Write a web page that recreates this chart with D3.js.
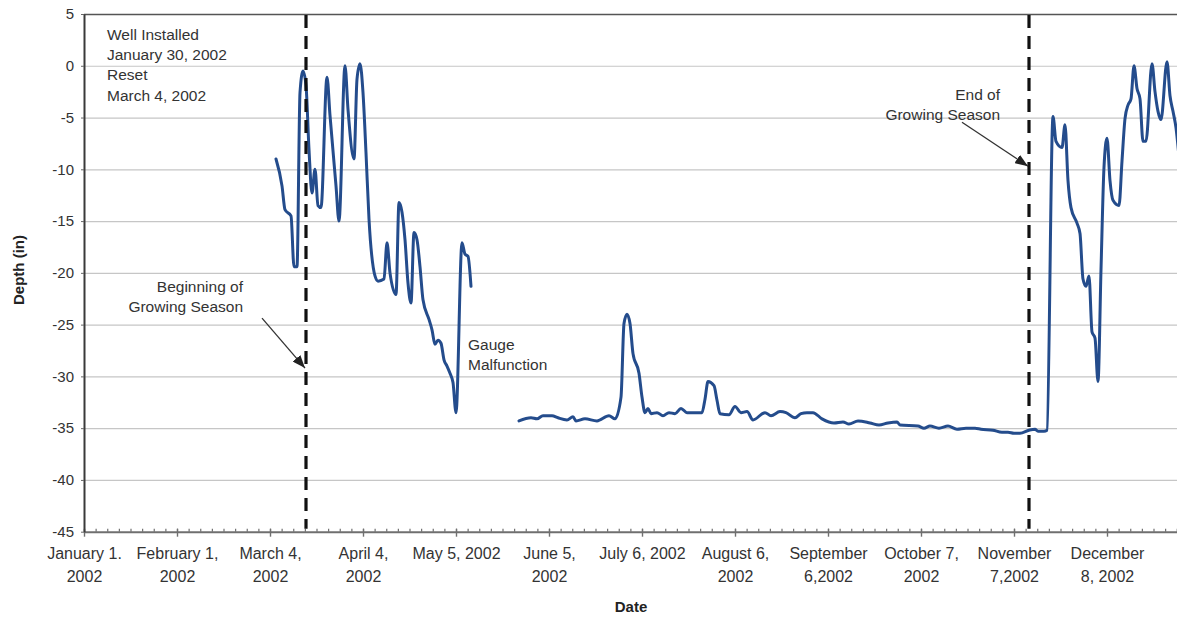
<!DOCTYPE html>
<html>
<head>
<meta charset="utf-8">
<script src="https://cdn.jsdelivr.net/npm/d3@7"></script>
<style>
  body { margin: 0; background: #fff; }
  svg { display: block; font-family: "Liberation Sans", Arial, sans-serif; }
</style>
</head>
<body>
<svg id="chart" width="1177" height="618"></svg>
<script>
// ---- Axis ticks (Excel-style 31-day major unit) ----
const tickDates = ["2002-01-01", "2002-02-01", "2002-03-04", "2002-04-04", "2002-05-05", "2002-06-05",
                   "2002-07-06", "2002-08-06", "2002-09-06", "2002-10-07", "2002-11-07", "2002-12-08"];
const tickLabels = [["January 1.", "2002"], ["February 1,", "2002"], ["March 4,", "2002"], ["April 4,", "2002"],
                    ["May 5, 2002"], ["June 5,", "2002"], ["July 6, 2002"], ["August 6,", "2002"],
                    ["September", "6,2002"], ["October 7,", "2002"], ["November", "7,2002"], ["December", "8, 2002"]];
const depthTicks = [5, 0, -5, -10, -15, -20, -25, -30, -35, -40, -45];

// ---- Well readings after reset (March 4) until the gauge malfunction ----
const springDates = ["2002-03-06", "2002-03-08", "2002-03-09", "2002-03-11", "2002-03-12", "2002-03-13", "2002-03-14",
  "2002-03-15", "2002-03-16", "2002-03-17", "2002-03-18", "2002-03-19", "2002-03-20", "2002-03-21", "2002-03-23",
  "2002-03-24", "2002-03-26", "2002-03-27", "2002-03-29", "2002-03-30", "2002-04-01", "2002-04-02", "2002-04-03",
  "2002-04-04", "2002-04-05", "2002-04-06", "2002-04-08", "2002-04-09", "2002-04-11", "2002-04-12", "2002-04-13",
  "2002-04-15", "2002-04-16", "2002-04-18", "2002-04-19", "2002-04-20", "2002-04-21", "2002-04-22", "2002-04-23",
  "2002-04-24", "2002-04-26", "2002-04-27", "2002-04-28", "2002-04-29", "2002-04-30", "2002-05-01", "2002-05-02",
  "2002-05-03", "2002-05-04", "2002-05-05", "2002-05-07", "2002-05-08", "2002-05-09", "2002-05-10"];
const springDepth = [-9.0, -11.6, -13.9, -14.5, -19.4, -19.4, -2.6, -0.5, -1.9, -8.1, -12.3, -10.0, -13.5, -13.7,
  -1.1, -4.8, -11.6, -15.0, 0.0, -4.2, -9.0, -1.3, 0.2, -2.6, -8.4, -14.8, -20.3, -20.8, -20.6, -17.1, -20.0,
  -22.1, -13.2, -16.8, -21.0, -22.9, -16.1, -16.8, -19.4, -22.6, -24.5, -25.5, -26.9, -26.5, -26.8, -28.4, -29.0,
  -29.7, -30.6, -33.5, -17.1, -18.2, -18.4, -21.3];

// ---- Readings after the gauge was restored, through year end ----
const laterDates = ["2002-05-26", "2002-05-30", "2002-06-01", "2002-06-03", "2002-06-06", "2002-06-08", "2002-06-11",
  "2002-06-13", "2002-06-14", "2002-06-17", "2002-06-21", "2002-06-25", "2002-06-27", "2002-06-29", "2002-06-30",
  "2002-07-01", "2002-07-02", "2002-07-03", "2002-07-05", "2002-07-06", "2002-07-07", "2002-07-08", "2002-07-09",
  "2002-07-11", "2002-07-13", "2002-07-15", "2002-07-17", "2002-07-19", "2002-07-21", "2002-07-23", "2002-07-26",
  "2002-07-27", "2002-07-28", "2002-07-30", "2002-07-31", "2002-08-01", "2002-08-04", "2002-08-06", "2002-08-08",
  "2002-08-10", "2002-08-12", "2002-08-16", "2002-08-18", "2002-08-21", "2002-08-23", "2002-08-26", "2002-08-28",
  "2002-08-30", "2002-09-01", "2002-09-04", "2002-09-08", "2002-09-11", "2002-09-13", "2002-09-16", "2002-09-20",
  "2002-09-23", "2002-09-26", "2002-09-29", "2002-09-30", "2002-10-06", "2002-10-08", "2002-10-10", "2002-10-13",
  "2002-10-16", "2002-10-19", "2002-10-22", "2002-10-25", "2002-10-27", "2002-10-31", "2002-11-03", "2002-11-05",
  "2002-11-07", "2002-11-09", "2002-11-12", "2002-11-14", "2002-11-15", "2002-11-17", "2002-11-18", "2002-11-20",
  "2002-11-21", "2002-11-23", "2002-11-24", "2002-11-25", "2002-11-26", "2002-11-28", "2002-11-29", "2002-11-30",
  "2002-12-01", "2002-12-02", "2002-12-03", "2002-12-04", "2002-12-05", "2002-12-06", "2002-12-07", "2002-12-08",
  "2002-12-09", "2002-12-10", "2002-12-12", "2002-12-13", "2002-12-14", "2002-12-15", "2002-12-16", "2002-12-17",
  "2002-12-18", "2002-12-19", "2002-12-20", "2002-12-21", "2002-12-23", "2002-12-24", "2002-12-25", "2002-12-26",
  "2002-12-28", "2002-12-29", "2002-12-30", "2002-12-31", "2003-01-01"];
const laterDepth = [-34.3, -34.0, -34.1, -33.8, -33.8, -34.0, -34.2, -33.9, -34.3, -34.1, -34.3, -33.8, -34.1,
  -32.0, -24.9, -24.0, -24.9, -27.8, -29.7, -32.0, -33.5, -33.1, -33.6, -33.5, -33.8, -33.5, -33.6, -33.1, -33.5,
  -33.5, -33.5, -32.2, -30.5, -30.9, -32.3, -33.6, -33.7, -32.9, -33.5, -33.4, -34.2, -33.5, -33.8, -33.4, -33.5,
  -34.0, -33.6, -33.5, -33.5, -34.1, -34.5, -34.4, -34.6, -34.3, -34.5, -34.7, -34.5, -34.4, -34.7, -34.8, -35.0,
  -34.8, -35.0, -34.8, -35.1, -35.0, -35.0, -35.1, -35.2, -35.4, -35.4, -35.5, -35.5, -35.2, -35.1, -35.3, -35.3,
  -35.2, -4.9, -7.3, -7.9, -5.7, -11.1, -13.7, -15.2, -16.2, -20.6, -21.3, -20.3, -25.7, -26.3, -30.5, -19.7,
  -9.8, -7.0, -11.1, -13.0, -13.5, -9.2, -5.1, -3.8, -3.2, 0.0, -2.2, -3.2, -7.3, -7.3, 0.2, -2.5, -4.4, -5.2,
  0.4, -2.9, -4.4, -6.0, -8.8];

// ---- Growing season boundaries ----
const seasonDates = ["2002-03-16", "2002-11-12"];
const arrowDepths = [-29.2, -9.7];

// ---- Text notes ----
const noteLines = [
  ["Well Installed", "January 30, 2002", "Reset", "March 4, 2002"],
  ["Beginning of", "Growing Season"],
  ["Gauge", "Malfunction"],
  ["End of", "Growing Season"]
];

const parse = d3.utcParse("%Y-%m-%d");
const svg = d3.select("#chart");
const fontFamily = '"Liberation Sans", Arial, sans-serif';

// Layout
const left = 84, plotTop = 14, plotBottom = 531.7;
const right = left + 365 * 3;

const x = d3.scaleUtc()
  .domain([parse("2002-01-01"), parse("2003-01-01")])
  .range([left, right]);
const y = d3.scaleLinear().domain([-45, 5]).range([plotBottom, plotTop]);

// Horizontal gridlines
svg.append("g")
  .attr("transform", `translate(${left},0)`)
  .call(d3.axisLeft(y).tickValues(depthTicks.filter(v => v > -45)).tickSize(-(right - left)).tickFormat(""))
  .call(g => g.select(".domain").remove())
  .call(g => g.selectAll(".tick line")
    .attr("stroke", d => d === 5 ? "#555" : "#c6c6c6")
    .attr("stroke-width", d => d === 5 ? 1.6 : 1.2));

// Minor ticks on the date axis (8 per 31-day unit)
const majors = tickDates.map(parse);
const minorStep = 31 / 8 * 864e5;
const minorDates = [];
for (let t = +majors[0]; t <= +x.domain()[1]; t += minorStep) minorDates.push(new Date(t));

svg.append("g")
  .attr("transform", `translate(0,${plotBottom})`)
  .call(d3.axisBottom(x).tickValues(minorDates).tickSize(-3).tickSizeOuter(0).tickFormat(""))
  .call(g => g.select(".domain").attr("stroke", "#6f6f6f").attr("stroke-width", 2))
  .call(g => g.selectAll(".tick line").attr("stroke", "#6f6f6f").attr("stroke-width", 1.2));

// Major ticks with two-line labels
const xAxis = svg.append("g")
  .attr("transform", `translate(0,${plotBottom})`)
  .call(d3.axisBottom(x).tickValues(majors).tickSize(5).tickSizeOuter(0).tickFormat(""))
  .call(g => g.select(".domain").remove())
  .call(g => g.selectAll(".tick line").attr("stroke", "#6f6f6f").attr("stroke-width", 1.4).attr("y1", -3));

xAxis.selectAll(".tick text")
  .attr("y", null).attr("dy", null)
  .attr("font-family", fontFamily)
  .attr("font-size", 16)
  .attr("fill", "#333")
  .attr("text-anchor", "middle")
  .each(function (d, i) {
    const t = d3.select(this);
    tickLabels[i].forEach((line, k) => {
      t.append("tspan").attr("x", 0).attr("y", 27 + k * 23).text(line);
    });
  });

// Depth axis (plain hyphen minus, as printed)
svg.append("g")
  .attr("transform", `translate(${left},0)`)
  .call(d3.axisLeft(y).tickValues(depthTicks).tickSize(3).tickSizeOuter(0).tickPadding(7)
    .tickFormat(d => String(d)))
  .call(g => g.select(".domain").attr("stroke", "#3a3a3a").attr("stroke-width", 2))
  .call(g => g.selectAll(".tick line").attr("stroke", "#666"))
  .call(g => g.selectAll(".tick text")
    .attr("font-family", fontFamily).attr("font-size", 15).attr("fill", "#333"));

// Water depth line
svg.append("defs").append("clipPath").attr("id", "plotArea")
  .append("rect").attr("x", left).attr("y", 0).attr("width", right - left).attr("height", plotBottom);

const line = d3.line()
  .x(d => x(d.date))
  .y(d => y(d.depth))
  .curve(d3.curveMonotoneX);

const records = [
  springDates.map((s, i) => ({ date: parse(s), depth: springDepth[i] })),
  laterDates.map((s, i) => ({ date: parse(s), depth: laterDepth[i] }))
];

svg.append("g").attr("clip-path", "url(#plotArea)")
  .selectAll("path").data(records).join("path")
  .attr("d", line)
  .attr("fill", "none")
  .attr("stroke", "#244c8c")
  .attr("stroke-width", 3)
  .attr("stroke-linejoin", "round")
  .attr("stroke-linecap", "round");

// Growing-season boundaries
svg.append("g").selectAll("line").data(seasonDates).join("line")
  .attr("x1", d => x(parse(d))).attr("x2", d => x(parse(d)))
  .attr("y1", y(5) + 1).attr("y2", y(-45) - 3)
  .attr("stroke", "#111")
  .attr("stroke-width", 3.2)
  .attr("stroke-dasharray", "13,8");

// Arrows pointing to the boundaries
svg.select("defs").append("marker")
  .attr("id", "head")
  .attr("viewBox", "0 0 13 10")
  .attr("refX", 13).attr("refY", 5)
  .attr("markerWidth", 13).attr("markerHeight", 10)
  .attr("markerUnits", "userSpaceOnUse")
  .attr("orient", "auto")
  .append("path").attr("d", "M0,0L13,5L0,10Z").attr("fill", "#222");

const arrowOffsets = [[-44, -50], [-67, -44]];
svg.append("g").selectAll("line").data(seasonDates).join("line")
  .attr("x1", (d, i) => x(parse(d)) + arrowOffsets[i][0])
  .attr("y1", (d, i) => y(arrowDepths[i]) + arrowOffsets[i][1])
  .attr("x2", d => x(parse(d)) - 1)
  .attr("y2", (d, i) => y(arrowDepths[i]))
  .attr("stroke", "#333")
  .attr("stroke-width", 1.3)
  .attr("marker-end", "url(#head)");

// Notes
const notePlace = [
  { x: 107, y: 40, anchor: "start" },
  { x: 243, y: 292, anchor: "end" },
  { x: 468, y: 350, anchor: "start" },
  { x: 1000, y: 100, anchor: "end" }
];
noteLines.forEach((lines, i) => {
  const p = notePlace[i];
  const t = svg.append("text")
    .attr("font-family", fontFamily)
    .attr("font-size", 15.5)
    .attr("fill", "#333")
    .attr("text-anchor", p.anchor);
  lines.forEach((s, k) => t.append("tspan").attr("x", p.x).attr("y", p.y + k * 20.2).text(s));
});

// Axis titles
svg.append("text")
  .attr("x", 631).attr("y", 612)
  .attr("text-anchor", "middle")
  .attr("font-family", fontFamily).attr("font-size", 15).attr("font-weight", "bold").attr("fill", "#222")
  .text("Date");

svg.append("text")
  .attr("transform", "translate(23.5,270) rotate(-90)")
  .attr("text-anchor", "middle")
  .attr("font-family", fontFamily).attr("font-size", 15).attr("font-weight", "bold").attr("fill", "#222")
  .text("Depth (in)");
</script>
</body>
</html>
